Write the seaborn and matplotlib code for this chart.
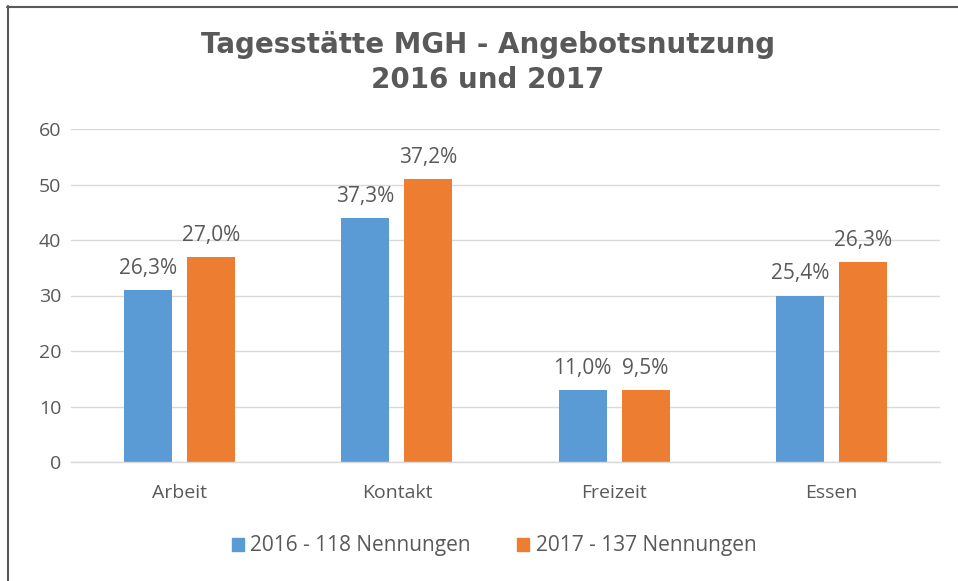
import matplotlib
matplotlib.use("Agg")
import matplotlib.pyplot as plt
import seaborn as sns
import pandas as pd
from matplotlib.lines import Line2D

categories = ["Arbeit", "Kontakt", "Freizeit", "Essen"]
series_names = ["2016 - 118 Nennungen", "2017 - 137 Nennungen"]
values_2016 = [31, 44, 13, 30]
values_2017 = [37, 51, 13, 36]
labels_2016 = ["26,3%", "37,3%", "11,0%", "25,4%"]
labels_2017 = ["27,0%", "37,2%", "9,5%", "26,3%"]
yticks = [0, 10, 20, 30, 40, 50, 60]

df = pd.DataFrame({
    "Kategorie": categories * 2,
    "Wert": values_2016 + values_2017,
    "Serie": [series_names[0]] * 4 + [series_names[1]] * 4,
})

sns.set_theme(style="white")
plt.rcParams["font.family"] = ["Open Sans", "DejaVu Sans"]

W, H = 958, 581
fig = plt.figure(figsize=(W / 100, H / 100), dpi=100)
ax = fig.add_axes([71 / W, 1 - 462 / H, (940 - 71) / W, (462 - 129) / H])

colors = ["#5b9bd5", "#ed7d31"]
sns.barplot(data=df, x="Kategorie", y="Wert", hue="Serie", palette=colors,
            width=0.58, gap=0.24, ax=ax, legend=False, saturation=1,
            edgecolor="none", errorbar=None)

ax.set_ylim(0, 60)
ax.set_xlim(-0.5, 3.5)
ax.set_yticks(yticks)
ax.yaxis.grid(True, color="#d9d9d9", linewidth=1)
ax.set_axisbelow(True)
for s in ["top", "right", "left"]:
    ax.spines[s].set_visible(False)
ax.spines["bottom"].set_color("#d9d9d9")
ax.spines["bottom"].set_linewidth(1)
ax.set_xlabel("")
ax.set_ylabel("")
ax.tick_params(axis="both", length=0, labelsize=14, labelcolor="#595959")
ax.tick_params(axis="y", pad=7)
ax.tick_params(axis="x", pad=16)

for cont, labs in zip(ax.containers, [labels_2016, labels_2017]):
    ax.bar_label(cont, labels=labs, padding=8, fontsize=15, color="#595959")

fig.text(488 / W, 1 - 45 / H, "Tagesstätte MGH - Angebotsnutzung", ha="center", va="center",
         fontsize=20, fontweight="bold", color="#595959", family="DejaVu Sans")
fig.text(488 / W, 1 - 80 / H, "2016 und 2017", ha="center", va="center",
         fontsize=20, fontweight="bold", color="#595959", family="DejaVu Sans")

handles = [plt.Rectangle((0, 0), 1, 1, color=c) for c in colors]
fig.legend(handles, series_names, loc="center", bbox_to_anchor=(494 / W, 1 - 546 / H),
           ncol=2, frameon=False, fontsize=15, labelcolor="#595959",
           handlelength=0.6, handleheight=0.6, handletextpad=0.3, columnspacing=2.2)

fig.add_artist(Line2D([7.5 / W, 7.5 / W], [0, 1 - 6 / H], transform=fig.transFigure,
                      color="#595959", linewidth=1.5))
fig.add_artist(Line2D([7 / W, 1], [1 - 6.5 / H, 1 - 6.5 / H], transform=fig.transFigure,
                      color="#595959", linewidth=1.5))

fig.savefig("out.png", dpi=100, facecolor="white")
